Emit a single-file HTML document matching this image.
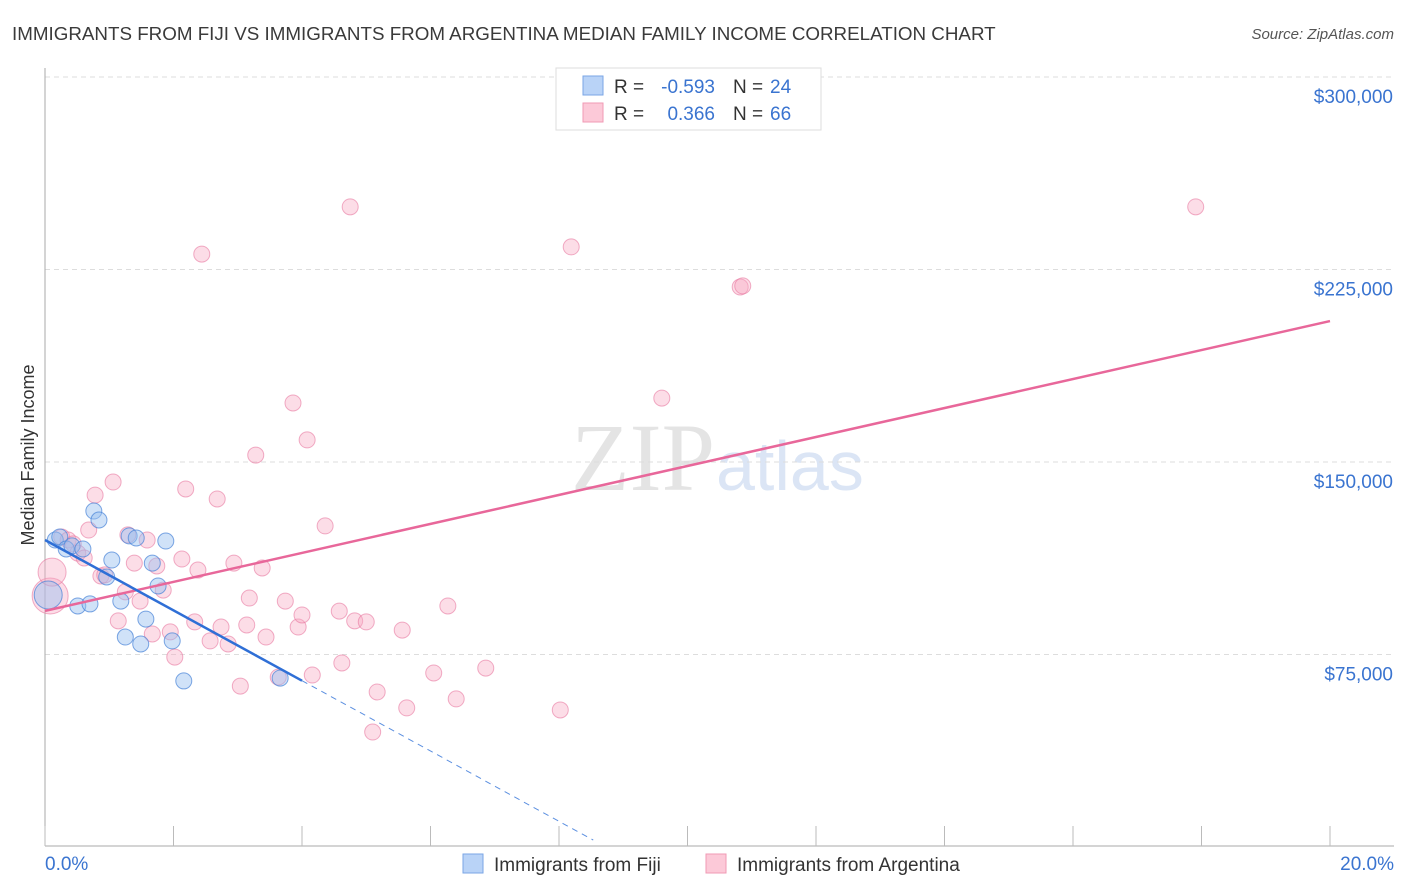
<!DOCTYPE html>
<html><head><meta charset="utf-8"><style>
body{margin:0;background:#fff;font-family:"Liberation Sans",sans-serif;}
svg{display:block}
</style></head><body>
<svg id="chart" width="1406" height="892">
<text x="12" y="40" font-size="18.8" fill="#3a3a3a">IMMIGRANTS FROM FIJI VS IMMIGRANTS FROM ARGENTINA MEDIAN FAMILY INCOME CORRELATION CHART</text>
<text x="1394" y="39" font-size="15" fill="#555" font-style="italic" text-anchor="end">Source: ZipAtlas.com</text>
<text x="34" y="455" font-size="18" fill="#333" text-anchor="middle" transform="rotate(-90 34 455)">Median Family Income</text>
<text x="715" y="490" font-size="96" fill="#e4e4e4" font-family="Liberation Serif,serif" text-anchor="end">ZIP</text>
<text x="716" y="490" font-size="70" fill="#dbe5f5">atlas</text>
<g id="grid"></g><g id="axes"></g><g id="marks"></g>
<g>
<rect x="556" y="68" width="265" height="62" fill="#fff" stroke="#ddd"/>
<rect x="583" y="76" width="20" height="19" fill="#b9d3f7" stroke="#7aa6e6"/>
<rect x="583" y="103" width="20" height="19" fill="#fcc9d8" stroke="#f09ab4"/>
<text x="614" y="93" font-size="19" fill="#333">R =</text>
<text x="715" y="93" font-size="19" fill="#3a74d0" text-anchor="end">-0.593</text>
<text x="733" y="93" font-size="19" fill="#333">N =</text>
<text x="770" y="93" font-size="19" fill="#3a74d0">24</text>
<text x="614" y="120" font-size="19" fill="#333">R =</text>
<text x="715" y="120" font-size="19" fill="#3a74d0" text-anchor="end">0.366</text>
<text x="733" y="120" font-size="19" fill="#333">N =</text>
<text x="770" y="120" font-size="19" fill="#3a74d0">66</text>
</g>
<g>
<rect x="463" y="854" width="20" height="19" fill="#b9d3f7" stroke="#7aa6e6"/>
<text x="494" y="871" font-size="19" fill="#333">Immigrants from Fiji</text>
<rect x="706" y="854" width="20" height="19" fill="#fcc9d8" stroke="#f09ab4"/>
<text x="737" y="871" font-size="19" fill="#333">Immigrants from Argentina</text>
</g>
</svg>
<script>
const yTicks=[75,150,225,300];
const yTickLabels=["$75,000","$150,000","$225,000","$300,000"];
const xTickLabels=["0.0%","20.0%"];
const fijiX=[0.16,0.23,0.33,0.42,0.59,0.76,0.84,0.51,0.70,0.96,1.04,1.18,1.25,1.31,1.42,1.49,1.57,1.67,1.76,1.88,1.98,2.16,3.66,0.05];
const fijiY=[119.6,120.8,116.1,117.3,116.1,130.9,127.4,93.9,94.7,105.2,111.8,95.8,81.8,121.2,120.4,79.1,88.8,110.6,101.7,119.2,80.3,64.7,65.8,98.2];
const fijiR=[8,8,8,8,8,8,8,8,8,8,8,8,8,8,8,8,8,8,8,8,8,8,8,14];
const argX=[0.08,0.11,0.26,0.36,0.44,0.51,0.61,0.68,0.78,0.87,0.93,1.06,1.14,1.25,1.29,1.39,1.48,1.59,1.67,1.74,1.84,1.95,2.02,2.13,2.19,2.33,2.38,2.44,2.57,2.68,2.74,2.85,2.94,3.04,3.14,3.18,3.28,3.38,3.44,3.63,3.74,3.86,3.94,4.00,4.08,4.16,4.36,4.58,4.62,4.75,4.82,5.00,5.10,5.17,5.56,5.63,6.05,6.27,6.40,6.86,8.02,8.19,9.60,10.82,10.86,17.91];
const argY=[97.8,107.1,120.8,119.6,118.1,114.5,112.6,123.5,137.1,105.6,106.0,142.2,88.1,99.4,121.6,110.6,95.8,119.6,83.0,109.5,100.1,83.8,74.0,112.2,139.5,87.7,107.9,231.0,80.3,135.6,85.7,79.1,110.6,62.7,86.5,97.0,152.7,108.7,81.8,66.2,95.8,173.0,85.7,90.4,158.6,67.0,125.1,91.9,71.7,249.4,88.1,87.7,44.8,60.4,84.5,54.2,67.8,93.9,57.7,69.7,53.4,233.8,174.9,218.2,218.6,249.4];
const argBig=[18,14];
const pinkLine=[92.0,204.9];
const blueLine=[119.6,-13.7];
const X=v=>45+v*64.25, Y=v=>847-v*2.5667;
const NS="http://www.w3.org/2000/svg";
function mk(p,t,a){const e=document.createElementNS(NS,t);for(const k in a)e.setAttribute(k,a[k]);p.appendChild(e);return e;}
const grid=document.getElementById('grid'),axes=document.getElementById('axes'),marks=document.getElementById('marks');
yTicks.forEach((t,i)=>{
 const l=mk(grid,'line',{x1:45,x2:1394,y1:Y(t),y2:Y(t),stroke:'#ddd','stroke-dasharray':'5,4'});
 
 
 const tx=mk(axes,'text',{x:1393,y:Y(t)+26,'font-size':19,fill:'#3a74d0','text-anchor':'end'});tx.textContent=yTickLabels[i];
 
 
});
mk(axes,'line',{x1:45,x2:45,y1:68,y2:846,stroke:'#aaa'});
mk(axes,'line',{x1:45,x2:1394,y1:846,y2:846,stroke:'#aaa'});
for(let i=0;i<=10;i++){mk(axes,'line',{x1:X(i*2),x2:X(i*2),y1:826,y2:846,stroke:'#bbb'});}
[[0,'start',45],[1,'end',1394]].forEach(([i,a,x])=>{const t=mk(axes,'text',{x:x,y:870,'font-size':19,fill:'#3a74d0','text-anchor':a});t.textContent=xTickLabels[i];
 
 });
argX.forEach((x,i)=>{const c=mk(marks,'circle',{cx:X(x),cy:Y(argY[i]),r:argBig[i]||8,fill:'rgba(248,170,195,0.4)',stroke:'rgba(232,120,160,0.6)','stroke-width':1});
 
 });
fijiX.forEach((x,i)=>{const c=mk(marks,'circle',{cx:X(x),cy:Y(fijiY[i]),r:fijiR[i],fill:'rgba(150,190,240,0.45)',stroke:'rgba(70,130,215,0.7)','stroke-width':1});
 
 });
const pl=mk(marks,'line',{x1:X(0),y1:Y(pinkLine[0]),x2:X(20),y2:Y(pinkLine[1]),stroke:'#e8679a','stroke-width':2.5});


const bl=mk(marks,'line',{x1:X(0),y1:Y(blueLine[0]),x2:X(4),y2:Y(blueLine[0]+4*blueLine[1]),stroke:'#2f6fd6','stroke-width':2.5});


const xe=(2.7-blueLine[0])/blueLine[1];
const bd=mk(marks,'line',{x1:X(4),y1:Y(blueLine[0]+4*blueLine[1]),x2:X(xe),y2:Y(2.7),stroke:'#5b8fe0','stroke-width':1,'stroke-dasharray':'6,5'});


</script>
</body></html>
